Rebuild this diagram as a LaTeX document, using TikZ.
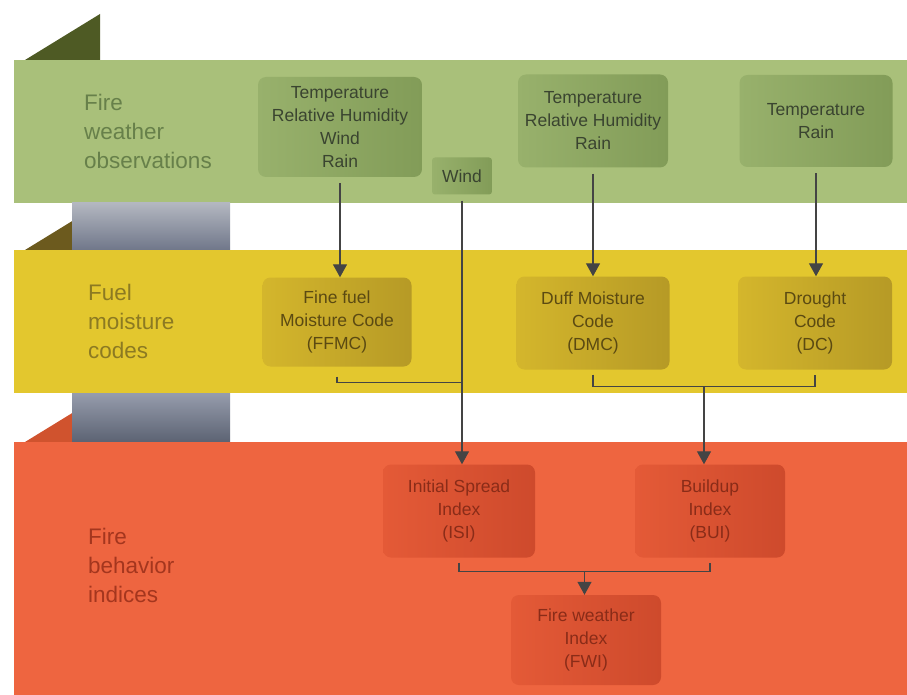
\documentclass[tikz,border=0pt]{standalone}
\usepackage{fontspec}
\setmainfont{Liberation Sans}
\usetikzlibrary{arrows.meta,positioning,calc}

\definecolor{obsgreen}{HTML}{A9C07A}
\definecolor{obsdark}{HTML}{4E5A24}
\definecolor{obsboxl}{HTML}{98B16C}
\definecolor{obsboxr}{HTML}{829C58}
\definecolor{obstext}{HTML}{3A4430}
\definecolor{obslabel}{HTML}{67804A}
\definecolor{fuelyellow}{HTML}{E3C72E}
\definecolor{fueldark}{HTML}{6C5A1E}
\definecolor{fuelboxl}{HTML}{D4B62C}
\definecolor{fuelboxr}{HTML}{B69A26}
\definecolor{fueltext}{HTML}{5B4A12}
\definecolor{fuellabel}{HTML}{8C7A22}
\definecolor{behavorange}{HTML}{EE6540}
\definecolor{behavdark}{HTML}{D0532E}
\definecolor{behavboxl}{HTML}{E45A37}
\definecolor{behavboxr}{HTML}{CE4A2C}
\definecolor{behavtext}{HTML}{8A2C18}
\definecolor{behavlabel}{HTML}{A4361E}
\definecolor{linkgray}{HTML}{444444}

\begin{document}
\begin{tikzpicture}[x = 1pt, y = -1pt,
  box/.style = {rounded corners = 8pt, align = center, inner sep = 0pt,
    minimum width = 152pt, minimum height = 93pt, font = \fontsize{17.5}{23}\selectfont},
  obsbox/.style = {box, left color = obsboxl, right color = obsboxr, text = obstext},
  fuelbox/.style = {box, left color = fuelboxl, right color = fuelboxr, text = fueltext},
  behavbox/.style = {box, left color = behavboxl, right color = behavboxr, text = behavtext},
  bandlabel/.style = {anchor = west, align = left, inner sep = 0pt, font = \fontsize{22.5}{29}\selectfont},
  link/.style = {draw = linkgray, line width = 1.3pt, shorten <= 6pt},
  tip/.style = {link, -{Triangle[width = 14pt, length = 13pt]}}]
\useasboundingbox (0,0) rectangle (907,695);

\fill[obsdark] (25,60) -- (100,14) -- (100,60) -- cycle;
\fill[obsgreen] (14,60) rectangle (907,203);
\fill[fueldark] (25,250) -- (100,204) -- (100,250) -- cycle;
\shade[top color = {rgb,255:red,179;green,183;blue,192}, bottom color = {rgb,255:red,112;green,119;blue,138}] (72,203) rectangle (230,250);
\fill[fuelyellow] (14,250) rectangle (907,393);
\fill[behavdark] (25,442) -- (100,396) -- (100,442) -- cycle;
\shade[top color = {rgb,255:red,150;green,156;blue,172}, bottom color = {rgb,255:red,92;green,99;blue,115}] (72,393) rectangle (230,442);
\fill[behavorange] (14,442) rectangle (907,695);

\node[bandlabel, text = obslabel] (obslab) at (84,131) {Fire\\weather\\observations};
\node[bandlabel, text = fuellabel] (fuellab) at (88,321) {Fuel\\moisture\\codes};
\node[bandlabel, text = behavlabel] (behavlab) at (88,565) {Fire\\behavior\\indices};

\node[obsbox, minimum width = 164pt, minimum height = 100pt] (obsA) at (340,127) {Temperature\\Relative Humidity\\Wind\\Rain};
\node[obsbox, minimum width = 150pt] (obsB) at (593,121) {Temperature\\Relative Humidity\\Rain};
\node[obsbox, minimum width = 153pt, minimum height = 92pt] (obsC) at (816,121) {Temperature\\Rain};
\node[obsbox, minimum width = 60pt, minimum height = 37pt, rounded corners = 3pt] (wind) at (462,176) {Wind};

\node[fuelbox, minimum width = 149pt, minimum height = 89pt] (ffmc) at (337,322) {Fine fuel\\Moisture Code\\(FFMC)};
\node[fuelbox, minimum width = 153pt] (dmc) at (593,323) {Duff Moisture\\Code\\(DMC)};
\node[fuelbox, minimum width = 154pt] (dc) at (815,323) {Drought\\Code\\(DC)};

\node[behavbox] (isi) at (459,511) {Initial Spread\\Index\\(ISI)};
\node[behavbox, minimum width = 150pt] (bui) at (710,511) {Buildup\\Index\\(BUI)};
\node[behavbox, minimum width = 150pt, minimum height = 90pt] (fwi) at (586,640) {Fire weather\\Index\\(FWI)};

\draw[tip] (obsA.south) -- (obsA.south |- ffmc.north);
\draw[tip] (obsB.south) -- (obsB.south |- dmc.north);
\draw[tip] (obsC.south) -- (obsC.south |- dc.north);
\draw[tip] (wind.south) -- (wind.south |- isi.north);

\draw[link, shorten <= 10pt] (ffmc.south) -- ++(0,16) coordinate (ffmcjoin) -- (ffmcjoin -| wind.south);
\draw[link, shorten <= 5pt, shorten >= 5pt] (dmc.south) -- ++(0,17) coordinate (dmcjoin) -| (dc.south);
\coordinate (buijoin) at ($(dmcjoin)!0.5!(dmcjoin -| dc.south)$);
\draw[tip, shorten <= 0pt] (buijoin) -- (buijoin |- bui.north);
\draw[link, shorten <= 5pt, shorten >= 5pt] (isi.south) -- ++(0,14) coordinate (isijoin) -| (bui.south);
\coordinate (fwijoin) at ($(isijoin)!0.5!(isijoin -| bui.south)$);
\draw[tip, shorten <= 0pt] (fwijoin) -- (fwijoin |- fwi.north);
\end{tikzpicture}
\end{document}
